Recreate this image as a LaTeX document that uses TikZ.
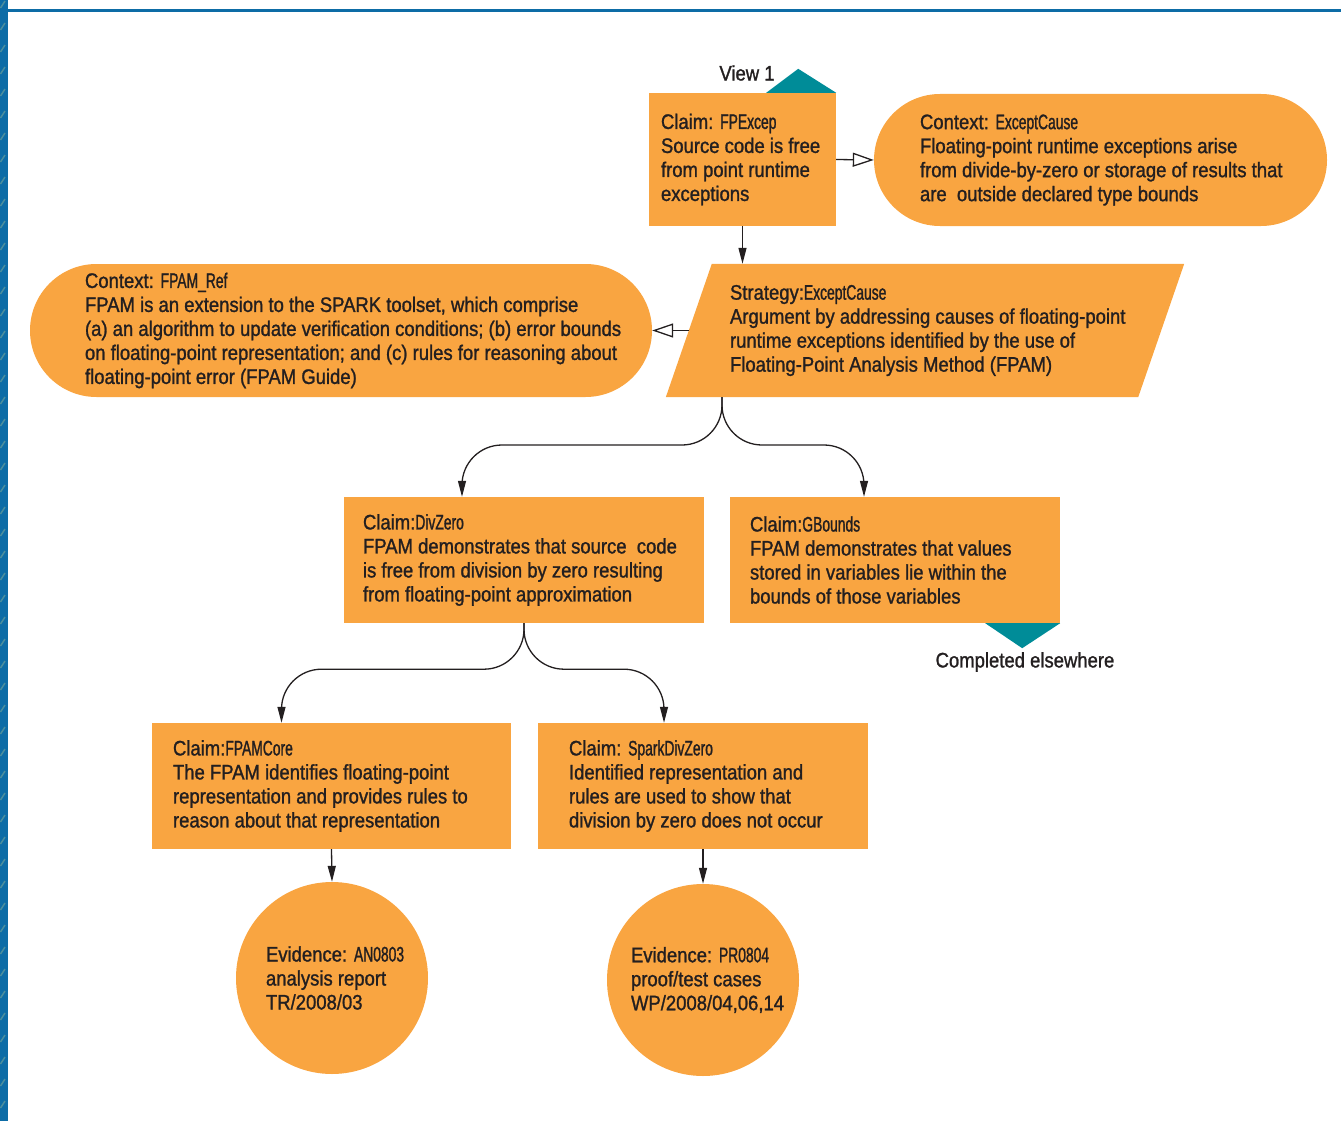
\documentclass[tikz,border=0pt]{standalone}
\usepackage{fontspec}
\setmainfont{Liberation Sans}[FakeStretch=0.88, FakeBold=1.2]
\newfontfamily\cond{Liberation Sans}[FakeStretch=0.66, FakeBold=1.2]
\usetikzlibrary{arrows.meta,positioning}

\definecolor{gsnorange}{HTML}{F9A541}
\definecolor{gsnteal}{HTML}{008C98}
\definecolor{frameblue}{HTML}{0D6CA6}
\definecolor{stripeteal}{HTML}{4B8E9E}
\definecolor{inkdark}{HTML}{231F20}

\tikzset{
  goalbox/.style={rectangle, fill=gsnorange, inner sep=0pt, minimum height=126pt},
  ctxbox/.style={rectangle, rounded corners=66pt, fill=gsnorange, inner sep=0pt, minimum height=132pt},
  stratbox/.style={rectangle, inner sep=0pt},
  evbox/.style={circle, fill=gsnorange, inner sep=0pt, minimum size=192pt},
  gsntext/.style={align=left, inner sep=0pt},
  flow/.style={-{Triangle[length=16pt,width=8pt]}, line width=1.3pt, draw=inkdark},
  ctxflow/.style={-{Triangle[open,length=21pt,width=14pt]}, line width=1.3pt, draw=inkdark},
}

\begin{document}
\begin{tikzpicture}[x=1pt, y=-1pt, font=\fontsize{21}{24}\selectfont, text=inkdark]
  \useasboundingbox (0,0) rectangle (1341,1121);

  % page frame
  \fill[frameblue] (0,0) rectangle (8,1121);
  \fill[frameblue] (0,9) rectangle (1341,12);
  \foreach \y in {0,22,...,1120}
    \draw[stripeteal, line width=1.5pt] (0.5,\y+8) -- (5,\y+1);

  % top goal and its context
  \node[goalbox, minimum width=187pt, minimum height=133pt] (fpexcep) at (742.5,159.5) {};
  \node[gsntext, right=12pt of fpexcep.west] (fpexceptext)
    {Claim: {\cond FPExcep}\\Source code is free\\from point runtime\\exceptions};
  \fill[gsnteal] (fpexcep.north east) -- ++(-38,-24) -- ++(-32,24) -- cycle;
  \node (view) at (747,73) {View 1};

  \node[ctxbox, minimum width=453pt] (exccause) at (1100.5,160) {};
  \node[gsntext, right=46pt of exccause.west] (exccausetext)
    {Context: {\cond ExceptCause}\\Floating-point runtime exceptions arise\\from divide-by-zero or storage of results that\\are\ \ outside declared type bounds};

  % strategy (parallelogram) and its context
  \node[stratbox, minimum width=472pt, minimum height=133pt] (strat) at (925,330.5) {};
  \fill[gsnorange] ([xshift=23pt]strat.north west) -- ([xshift=23pt]strat.north east)
    -- ([xshift=-23pt]strat.south east) -- ([xshift=-23pt]strat.south west) -- cycle;
  \node[gsntext, right=41pt of strat.west] (strattext)
    {Strategy:{\cond ExceptCause}\\Argument by addressing causes of floating-point\\runtime exceptions identified by the use of\\Floating-Point Analysis Method (FPAM)};

  \node[ctxbox, rounded corners=66.5pt, minimum width=622pt, minimum height=133pt] (fpamref) at (341,330.5) {};
  \node[gsntext, right=55pt of fpamref.west] (fpamreftext)
    {Context: {\cond FPAM\_Ref}\\FPAM is an extension to the SPARK toolset, which comprise\\(a) an algorithm to update verification conditions; (b) error bounds\\on floating-point representation; and (c) rules for reasoning about\\floating-point error (FPAM Guide)};

  % sub-goals
  \node[goalbox, minimum width=360pt] (divzero) at (524,560) {};
  \node[gsntext, right=19pt of divzero.west] (divzerotext)
    {Claim:{\cond DivZero}\\FPAM demonstrates that source\ \ code\\is free from division by zero resulting\\from floating-point approximation};
  \node[goalbox, minimum width=330pt] (gbounds) at (895,560) {};
  \node[gsntext, right=20pt of gbounds.west] (gboundstext)
    {Claim:{\cond GBounds}\\FPAM demonstrates that values\\stored in variables lie within the\\bounds of those variables};
  \fill[gsnteal] (gbounds.south east) -- ++(-38,25) -- ++(-37,-25) -- cycle;
  \node (elsewhere) at (1025,662) {Completed elsewhere};

  \node[goalbox, minimum width=359pt] (fpamcore) at (331.5,786) {};
  \node[gsntext, right=21pt of fpamcore.west] (fpamcoretext)
    {Claim:{\cond FPAMCore}\\The FPAM identifies floating-point\\representation and provides rules to\\reason about that representation};
  \node[goalbox, minimum width=330pt] (sparkdz) at (703,786) {};
  \node[gsntext, right=31pt of sparkdz.west] (sparkdztext)
    {Claim: {\cond SparkDivZero}\\Identified representation and\\rules are used to show that\\division by zero does not occur};

  % evidence
  \node[evbox] (an0803) at (332,978) {};
  \node[gsntext, right=30pt of an0803.west] (an0803text)
    {Evidence: {\cond AN0803}\\analysis report\\TR/2008/03};
  \node[evbox] (pr0804) at (703,980) {};
  \node[gsntext, right=24pt of pr0804.west] (pr0804text)
    {Evidence: {\cond PR0804}\\proof/test cases\\WP/2008/04,06,14};

  % connectors
  \draw[ctxflow] (fpexcep.east) -- (exccause.west);
  \draw[flow] (fpexcep.south) -- (fpexcep.south |- strat.north);
  \draw[ctxflow] (strat.west) -- (fpamref.east);

  \coordinate (sfork) at (722,397);
  \draw[flow, rounded corners=40pt] (sfork) -- ++(0,48) -| ([xshift=-62pt]divzero.north);
  \draw[flow, rounded corners=40pt] (sfork) -- ++(0,48) -| ([xshift=-31pt]gbounds.north);
  \draw[flow, rounded corners=40pt] (divzero.south) -- ++(0,46) -| ([xshift=-50pt]fpamcore.north);
  \draw[flow, rounded corners=40pt] (divzero.south) -- ++(0,46) -| ([xshift=-39pt]sparkdz.north);

  \draw[flow] (fpamcore.south) -- (an0803.north);
  \draw[flow] (sparkdz.south) -- (pr0804.north);
\end{tikzpicture}
\end{document}
